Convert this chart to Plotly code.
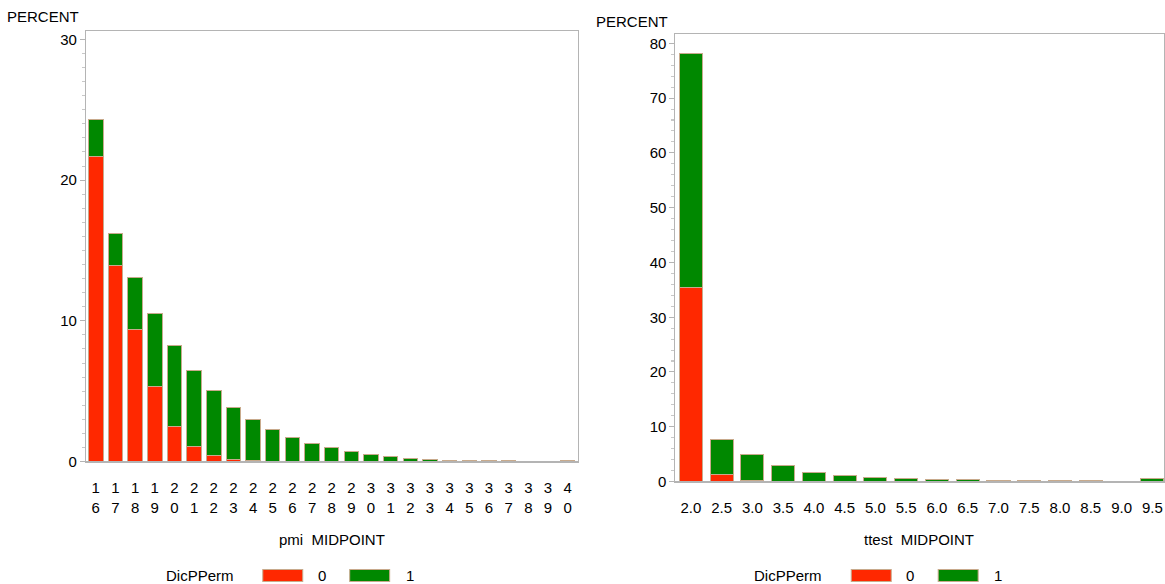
import plotly.graph_objects as go

# ---- data ----
pmi_cats = [str(v) for v in range(16, 41)]
pmi_ticktext = [c[0] + "<br>" + c[1] for c in pmi_cats]
pmi_0 = [21.7, 13.9, 9.4, 5.3, 2.5, 1.1, 0.45, 0.15, 0.08, 0.03, 0.01, 0.0, 0.0, 0.0, 0.0,
         0.0, 0.0, 0.0, 0.0, 0.0, 0.0, 0.0, 0.0, 0.01, 0.0]
pmi_1 = [2.6, 2.3, 3.7, 5.2, 5.75, 5.4, 4.6, 3.7, 2.92, 2.27, 1.69, 1.3, 1.0, 0.69, 0.47,
         0.33, 0.24, 0.17, 0.10, 0.07, 0.05, 0.05, 0.03, 0.01, 0.05]

ttest_cats = ["2.0", "2.5", "3.0", "3.5", "4.0", "4.5", "5.0", "5.5", "6.0", "6.5",
              "7.0", "7.5", "8.0", "8.5", "9.0", "9.5"]
ttest_0 = [35.4, 1.3, 0.2, 0.02, 0.0, 0.0, 0.0, 0.0, 0.0, 0.0, 0.0, 0.0, 0.0, 0.0, 0.0, 0.0]
ttest_1 = [42.8, 6.3, 4.7, 2.9, 1.7, 1.1, 0.8, 0.55, 0.37, 0.3, 0.2, 0.2, 0.15, 0.12, 0.07, 0.6]

RED = "rgb(255,40,0)"
GREEN = "rgb(0,136,0)"
EDGE = "rgb(200,170,140)"
AXC = "#b4b4b4"
FONT = "Liberation Sans, Arial, Helvetica, sans-serif"
W, H = 1165, 584

def py(p):  # pixel y -> paper
    return 1 - p / H

def px(p):
    return p / W

fig = go.Figure()
fig.add_bar(x=pmi_cats, y=pmi_0, name="0", marker=dict(color=RED, line=dict(color=EDGE, width=1)),
            xaxis="x", yaxis="y", width=0.74, showlegend=False)
fig.add_bar(x=pmi_cats, y=pmi_1, name="1", marker=dict(color=GREEN, line=dict(color=EDGE, width=1)),
            xaxis="x", yaxis="y", width=0.74, showlegend=False)
fig.add_bar(x=ttest_cats, y=ttest_0, name="0", marker=dict(color=RED, line=dict(color=EDGE, width=1)),
            xaxis="x2", yaxis="y2", width=0.75, showlegend=False)
fig.add_bar(x=ttest_cats, y=ttest_1, name="1", marker=dict(color=GREEN, line=dict(color=EDGE, width=1)),
            xaxis="x2", yaxis="y2", width=0.75, showlegend=False)

axis_common = dict(showline=True, linecolor=AXC, linewidth=1, mirror=True,
                   showgrid=False, zeroline=False,
                   tickfont=dict(family=FONT, size=15, color="black"))

fig.update_layout(
    width=W, height=H, barmode="stack", bargap=0.25,
    margin=dict(l=0, r=0, t=0, b=0),
    paper_bgcolor="white", plot_bgcolor="white",
    font=dict(family=FONT, size=15, color="black"),
    xaxis=dict(domain=[px(86), px(578)], anchor="y", type="category",
               range=[-0.5, len(pmi_cats) - 0.5],
               tickvals=pmi_cats, ticktext=pmi_ticktext, ticks="",
               ticklabelstandoff=12, **axis_common),
    yaxis=dict(domain=[py(461.5), py(31)], anchor="x", range=[0, 30.6],
               tickvals=[0, 10, 20, 30], ticks="outside", ticklen=5, tickcolor=AXC,
               minor=dict(dtick=1, ticks="outside", ticklen=3, tickcolor="#c8c8c8"),
               **axis_common),
    xaxis2=dict(domain=[px(676), 1.0], anchor="y2", type="category",
                range=[-0.5, 15.38], ticks="", ticklabelstandoff=12, **axis_common),
    yaxis2=dict(domain=[py(481.5), py(34)], anchor="x2", range=[0, 81.7],
                tickvals=[0, 10, 20, 30, 40, 50, 60, 70, 80], ticks="outside", ticklen=5,
                tickcolor=AXC,
                minor=dict(dtick=2, ticks="outside", ticklen=3, tickcolor="#c8c8c8"),
                **axis_common),
)

ann = []
def text(x, y, s, xanchor="center"):
    ann.append(dict(x=px(x), y=py(y), xref="paper", yref="paper", text=s, showarrow=False,
                    xanchor=xanchor, yanchor="middle", font=dict(family=FONT, size=15, color="black")))

text(43, 17, "PERCENT")
text(633, 22, "PERCENT")
text(332, 540, "pmi&nbsp;&nbsp;MIDPOINT")
text(920, 540, "ttest&nbsp;&nbsp;MIDPOINT")
# legends
text(200, 575, "DicPPerm")
text(322, 575, "0")
text(410, 575, "1")
text(789, 575, "DicPPerm")
text(911, 575, "0")
text(999, 575, "1")
fig.update_layout(annotations=ann)

shapes = []
for (x0, x1, c) in [(263, 303, RED), (350, 390, GREEN), (852, 892, RED), (939, 979, GREEN)]:
    shapes.append(dict(type="rect", xref="paper", yref="paper", x0=px(x0), x1=px(x1),
                       y0=py(581.5), y1=py(569.5), fillcolor=c, line=dict(color=EDGE, width=1)))
fig.update_layout(shapes=shapes)

fig.write_html(
    "out.html",
    config={"displayModeBar": False},
    post_script=(
        "document.documentElement.style.margin='0';"
        "document.body.style.margin='0';document.body.style.overflow='hidden';"
        "var gd=document.getElementById('{plot_id}');"
        "gd.style.position='fixed';gd.style.left='0px';gd.style.top='0px';"
        "gd.style.transformOrigin='0 0';"
        "gd.style.transform='scaleY(' + (window.innerHeight || 584) / 576 + ')';"
    ),
)
